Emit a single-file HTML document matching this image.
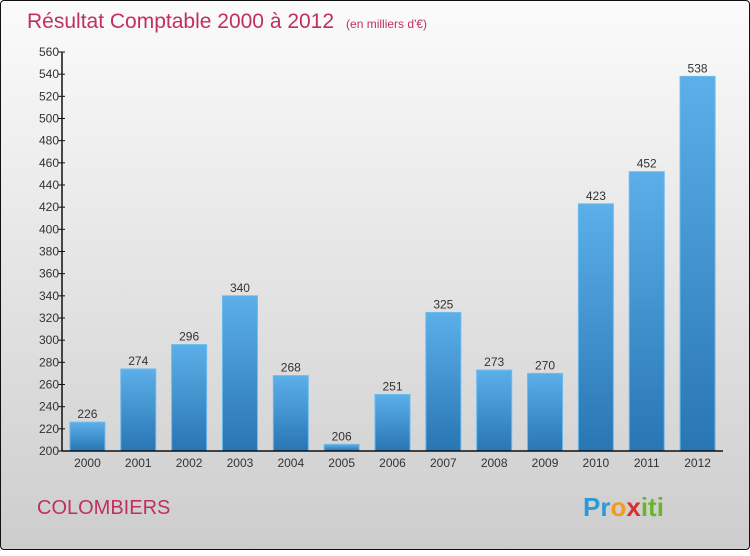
<!DOCTYPE html>
<html><head><meta charset="utf-8"><style>
body{margin:0;width:750px;height:550px;overflow:hidden;font-family:"Liberation Sans",sans-serif}
#c{position:absolute;left:0;top:0;width:748px;height:548px;border:1px solid #111;border-radius:4px;background:linear-gradient(#fbfbfb,#cdcdcd)}
</style></head><body>
<div id="c">
<svg width="750" height="550">
<defs><linearGradient id="g" x1="0" y1="0" x2="0" y2="1"><stop offset="0" stop-color="#5cafe8"/><stop offset="1" stop-color="#2876b4"/></linearGradient></defs>
<text x="26" y="27" font-size="21" fill="#c0305f">Résultat Comptable 2000 à 2012<tspan font-size="12" dx="12">(en milliers d'€)</tspan></text>
<g id="plot"></g>
<text x="36" y="513" font-size="20" fill="#c0305f">COLOMBIERS</text>
<text x="582" y="515" font-size="26" font-weight="bold"><tspan fill="#2d9ad8">Pr</tspan><tspan fill="#f29b1f">o</tspan><tspan fill="#d8302f">x</tspan><tspan fill="#6ab42d">iti</tspan></text>
</svg></div>
<script>
const years=["2000","2001","2002","2003","2004","2005","2006","2007","2008","2009","2010","2011","2012"];
const values=[226,274,296,340,268,206,251,325,273,270,423,452,538];
const ticks=[200,220,240,260,280,300,320,340,360,380,400,420,440,460,480,500,520,540,560];
const NS="http://www.w3.org/2000/svg",p=document.getElementById("plot");
const X0=61,X1=722,Y0=450,Y1=51,yMin=200,yMax=560;
const y=v=>Y0-(v-yMin)/(yMax-yMin)*(Y0-Y1);
const step=(X1-X0)/years.length,x=i=>X0+step*(i+0.5);
function mk(t,a,txt){const e=document.createElementNS(NS,t);for(const k in a)e.setAttribute(k,a[k]);if(txt!=null)e.textContent=txt;p.appendChild(e);return e;}
ticks.forEach(t=>{
const l=mk("line",{x1:X0-4,x2:X0+3,y1:y(t),y2:y(t),stroke:"#111"});


const tx=mk("text",{x:X0-3,y:y(t)+4,"font-size":12,fill:"#333","text-anchor":"end"},t);


});
years.forEach((yr,i)=>{
const v=values[i],cx=x(i);
const r=mk("rect",{x:cx-17.5,y:y(v),width:35,height:Y0-y(v),fill:"url(#g)",stroke:"#6bbaf0","stroke-width":1});


const vl=mk("text",{x:cx,y:y(v)-4,"font-size":12,fill:"#333","text-anchor":"middle"},v);


const xl=mk("text",{x:cx,y:Y0+16,"font-size":12,fill:"#333","text-anchor":"middle"},yr);


});
const ya=mk("line",{x1:X0,x2:X0,y1:Y1,y2:Y0,stroke:"#111","stroke-width":1.5});


const xa=mk("line",{x1:X0,x2:X1,y1:Y0,y2:Y0,stroke:"#111","stroke-width":1.5});


</script>
</body></html>
